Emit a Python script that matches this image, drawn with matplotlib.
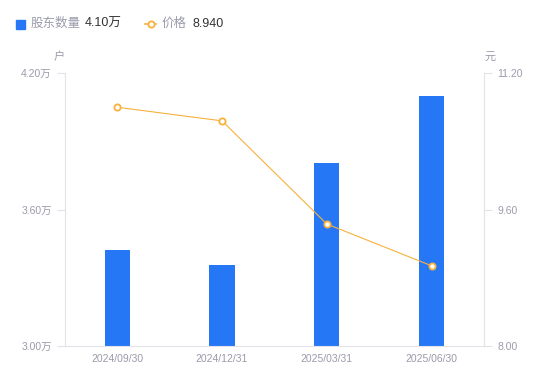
import matplotlib
matplotlib.use('Agg')
import matplotlib.pyplot as plt
import numpy as np
from matplotlib.lines import Line2D
from matplotlib.patches import Rectangle

plt.rcParams['font.family'] = ['Liberation Sans', 'Noto Sans CJK SC', 'DejaVu Sans']

# data
dates = ['2024/09/30', '2024/12/31', '2025/03/31', '2025/06/30']
holders = [3.42, 3.355, 3.805, 4.10]   # 万户
price = [10.80, 10.64, 9.43, 8.94]
left_ticks = [3.00, 3.60, 4.20]
right_ticks = [8.00, 9.60, 11.20]

blue = '#2677f5'
orange = '#f8b13c'
grey = '#9b9bab'
axcol = '#e2e2e8'

fig = plt.figure(figsize=(5.5, 3.81), dpi=100)
ax = fig.add_axes([0.118, 0.092, 0.762, 0.716])
ax2 = ax.twinx()

x = np.arange(len(dates))
ax.bar(x, holders, width=0.24, color=blue, zorder=2)
ax.set_xlim(-0.5, len(dates) - 0.5)
ax.set_ylim(3.00, 4.20)
ax.set_yticks(left_ticks)
ax.set_yticklabels(['%.2f万' % v for v in left_ticks])
ax.set_xticks(x)
ax.set_xticklabels(dates)

ax2.plot(x, price, color=orange, lw=0.8, marker='o', ms=4.5,
         mfc='white', mec=orange, mew=1.3, zorder=3)
ax2.set_ylim(8.00, 11.20)
ax2.set_yticks(right_ticks)
ax2.set_yticklabels(['%.2f' % v for v in right_ticks])

for a in (ax, ax2):
    for s in a.spines.values():
        s.set_visible(False)
    a.tick_params(colors=axcol, labelcolor=grey, labelsize=7.5, length=6, width=0.8)
ax.spines['left'].set_visible(True)
ax.spines['bottom'].set_visible(True)
ax2.spines['right'].set_visible(True)
ax.spines['left'].set_color(axcol)
ax.spines['bottom'].set_color(axcol)
ax2.spines['right'].set_color(axcol)
ax.tick_params(axis='x', length=0, pad=6)

# unit labels
fig.text(59 / 550, 1 - 57 / 381, '户', color=grey, fontsize=8, ha='center', va='center')
fig.text(490 / 550, 1 - 57 / 381, '元', color=grey, fontsize=8, ha='center', va='center')

# legend
ly = 1 - 24 / 381
fig.patches.append(Rectangle((16 / 550, ly - 4.5 / 381), 9 / 550, 9 / 381,
                             transform=fig.transFigure, color=blue))
fig.text(31 / 550, ly, '股东数量', color=grey, fontsize=9, va='center')
fig.text(85 / 550, ly, '4.10万', color='#333333', fontsize=9, va='center')
fig.lines.append(Line2D([145 / 550, 156 / 550], [ly, ly], transform=fig.transFigure,
                        color=orange, lw=1.2))
fig.lines.append(Line2D([150.5 / 550], [ly], transform=fig.transFigure, marker='o',
                        ms=4.5, mfc='white', mec=orange, mew=1.3))
fig.text(162 / 550, ly, '价格', color=grey, fontsize=9, va='center')
fig.text(192 / 550, ly, '8.940', color='#333333', fontsize=9, va='center')

fig.savefig('out.png', dpi=100, facecolor='white')
